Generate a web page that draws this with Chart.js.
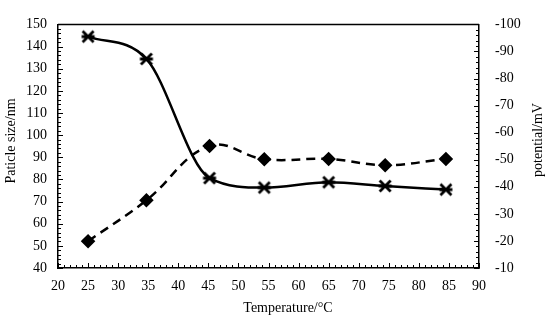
<!DOCTYPE html>
<html>
<head>
<meta charset="utf-8">
<script src="https://cdn.jsdelivr.net/npm/chart.js@4.4.1/dist/chart.umd.min.js"></script>
<style>
  html, body { margin: 0; padding: 0; background: #fff; }
  #wrap { width: 550px; height: 324px; }
</style>
</head>
<body>
<div id="wrap"><canvas id="chart"></canvas></div>
<script>
// temperatures
const temps = [25, 34.7, 45.2, 54.3, 65, 74.4, 84.5];
// particle size / nm (left axis, solid line)
const particleSize = [144.5, 134.4, 80.6, 76.3, 78.7, 77.0, 75.4];
// potential / mV (right axis, dashed line)
const potential = [-19.9, -35.0, -55.1, -50.2, -50.3, -48.0, -50.3];

const xTicks = [20, 25, 30, 35, 40, 45, 50, 55, 60, 65, 70, 75, 80, 85, 90];
const leftTicks = [40, 50, 60, 70, 80, 90, 100, 110, 120, 130, 140, 150];
const rightTicks = [-100, -90, -80, -70, -60, -50, -40, -30, -20, -10];

const FONT = "'Liberation Serif', 'Times New Roman', serif";

// asterisk marker like the excel one (X with a bar)
function asterisk() {
    const c = document.createElement("canvas");
    c.width = 16; c.height = 16;
    const g = c.getContext("2d");
    g.strokeStyle = "#000";
    g.lineWidth = 2.8;
    g.beginPath();
    g.moveTo(2.5, 2.5); g.lineTo(13.5, 13.5);
    g.moveTo(13.5, 2.5); g.lineTo(2.5, 13.5);
    g.moveTo(1.5, 8); g.lineTo(14.5, 8);
    g.stroke();
    return c;
}

// inside tick marks, top border and axis titles
const decor = {
    id: "decor",
    afterDraw(chart) {
        const ctx = chart.ctx;
        const a = chart.chartArea;
        const sx = chart.scales.x, sy = chart.scales.y, sy2 = chart.scales.y2;
        ctx.save();
        ctx.strokeStyle = "#000";
        ctx.lineWidth = 1.5;
        ctx.beginPath();
        ctx.moveTo(a.left, a.top);
        ctx.lineTo(a.right, a.top);
        ctx.stroke();

        ctx.lineWidth = 1;
        ctx.beginPath();
        for (let v = 20; v <= 90; v++) {
            const px = Math.round(sx.getPixelForValue(v)) + 0.5;
            const len = v % 5 === 0 ? 5 : 3;
            ctx.moveTo(px, a.bottom);
            ctx.lineTo(px, a.bottom - len);
        }
        for (let v = 40; v <= 150; v += 2) {
            const py = Math.round(sy.getPixelForValue(v)) + 0.5;
            const len = v % 10 === 0 ? 5 : 3;
            ctx.moveTo(a.left, py);
            ctx.lineTo(a.left + len, py);
        }
        for (let v = -100; v <= -10; v += 2) {
            const py = Math.round(sy2.getPixelForValue(v)) + 0.5;
            const len = v % 10 === 0 ? 5 : 3;
            ctx.moveTo(a.right, py);
            ctx.lineTo(a.right - len, py);
        }
        ctx.stroke();

        ctx.fillStyle = "#000";
        ctx.font = "14px " + FONT;
        ctx.textAlign = "center";
        ctx.textBaseline = "middle";
        ctx.fillText("Temperature/\u00B0C", 288, 308);

        ctx.translate(11, 141);
        ctx.rotate(-Math.PI / 2);
        ctx.fillText("Paticle size/nm", 0, 0);
        ctx.rotate(Math.PI / 2);
        ctx.translate(-11, -141);

        ctx.translate(538, 140);
        ctx.rotate(-Math.PI / 2);
        ctx.fillText("potential/mV", 0, 0);
        ctx.restore();
    }
};

const data = {
    datasets: [
        {
            label: "Particle size",
            data: temps.map((t, i) => ({ x: t, y: particleSize[i] })),
            yAxisID: "y",
            borderColor: "#000",
            backgroundColor: "#000",
            borderWidth: 2.5,
            cubicInterpolationMode: "monotone",
            pointStyle: asterisk(),
            pointRadius: 7,
        },
        {
            label: "Potential",
            data: temps.map((t, i) => ({ x: t, y: potential[i] })),
            yAxisID: "y2",
            borderColor: "#000",
            backgroundColor: "#000",
            borderWidth: 2.5,
            borderDash: [9, 6],
            tension: 0.4,
            pointStyle: "rectRot",
            pointRadius: 5.5,
        },
    ],
};

const tickFont = { family: FONT, size: 14 };

const config = {
    type: "line",
    data: data,
    options: {
        responsive: false,
        animation: false,
        layout: { padding: { top: 14 } },
        plugins: { legend: { display: false }, tooltip: { enabled: false } },
        scales: {
            x: {
                type: "linear",
                min: 20, max: 90,
                afterBuildTicks: (s) => { s.ticks = xTicks.map(v => ({ value: v })); },
                afterFit: (s) => { s.height = 56; },
                grid: { display: false, drawTicks: false },
                border: { color: "#000", width: 1.5 },
                ticks: { color: "#000", font: tickFont, padding: 10 },
            },
            y: {
                position: "left",
                min: 40, max: 150,
                afterBuildTicks: (s) => { s.ticks = leftTicks.map(v => ({ value: v })); },
                afterFit: (s) => { s.width = 58; },
                grid: { display: false, drawTicks: false },
                border: { color: "#000", width: 1.5 },
                ticks: { color: "#000", font: tickFont, padding: 11 },
            },
            y2: {
                position: "right",
                min: -100, max: -10,
                reverse: true,
                afterBuildTicks: (s) => { s.ticks = rightTicks.map(v => ({ value: v })); },
                afterFit: (s) => { s.width = 71; },
                grid: { display: false, drawTicks: false },
                border: { color: "#000", width: 1.5 },
                ticks: { color: "#000", font: tickFont, padding: 16 },
            },
        },
    },
    plugins: [decor],
};

const cv = document.getElementById("chart");
cv.width = 550; cv.height = 324;
const myChart = new Chart(cv, config);
</script>
</body>
</html>
